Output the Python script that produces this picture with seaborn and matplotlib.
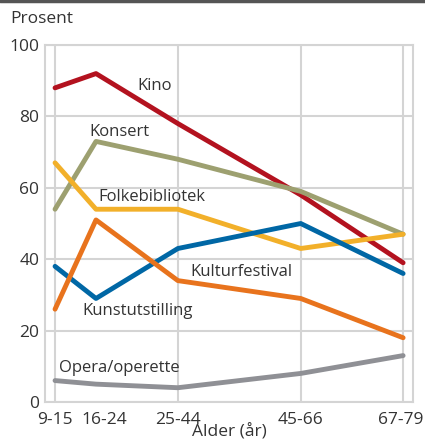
import pandas as pd
import seaborn as sns
import matplotlib.transforms as mtransforms
from matplotlib import pyplot as plt

# Data
age_groups = ["9-15", "16-24", "25-44", "45-66", "67-79"]
age_pos = [0, 1, 3, 6, 8.5]

kino = [88, 92, 78, 58, 39]
konsert = [54, 73, 68, 59, 47]
folkebibliotek = [67, 54, 54, 43, 47]
kulturfestival = [38, 29, 43, 50, 36]
kunstutstilling = [26, 51, 34, 29, 18]
opera = [6, 5, 4, 8, 13]

series = {
    "Kino": kino,
    "Konsert": konsert,
    "Folkebibliotek": folkebibliotek,
    "Kulturfestival": kulturfestival,
    "Kunstutstilling": kunstutstilling,
    "Opera/operette": opera,
}
colors = {
    "Kino": "#b3121f",
    "Konsert": "#9da070",
    "Folkebibliotek": "#f2b02a",
    "Kulturfestival": "#0067a5",
    "Kunstutstilling": "#e8731d",
    "Opera/operette": "#8f9095",
}
# label anchor (x in axis units, y in percent)
label_pos = {
    "Kino": (2.0, 88.5),
    "Konsert": (0.85, 75.5),
    "Folkebibliotek": (1.07, 57.5),
    "Kulturfestival": (3.3, 36.5),
    "Kunstutstilling": (0.66, 25.5),
    "Opera/operette": (0.1, 9.5),
}

rows = []
for name, vals in series.items():
    for x, v in zip(age_pos, vals):
        rows.append({"serie": name, "x": x, "verdi": v})
df = pd.DataFrame(rows)

sns.set_style("white")
plt.rcParams["font.family"] = ["Open Sans", "DejaVu Sans"]
grid_c = "#d4d4d4"
text_c = "#333333"

fig = plt.figure(figsize=(4.25, 4.44), dpi=100)
ax = fig.add_axes([0.106, 0.0946, 0.866, 0.804])

sns.lineplot(data=df, x="x", y="verdi", hue="serie", palette=colors,
             linewidth=3.5, legend=False, ax=ax, zorder=3)

for name, (lx, ly) in label_pos.items():
    ax.text(lx, ly, name, fontsize=12, color=text_c, va="center", ha="left", zorder=4)

ax.set_xlim(-0.244, 8.744)
ax.set_ylim(0, 100)
ax.set_yticks([0, 20, 40, 60, 80, 100])
ax.set_xticks([0, 3, 6, 8.5])
ax.set_xticklabels([age_groups[0], age_groups[2], age_groups[3], age_groups[4]])
ax.set_xticks([1], minor=True)
ax.set_xticklabels([age_groups[1]], minor=True)
ax.grid(True, which="major", color=grid_c, linewidth=1.5, zorder=0)
ax.set_axisbelow(True)
ax.tick_params(axis="both", which="both", labelsize=12.5, colors=text_c, length=0, pad=4)
ax.tick_params(axis="x", which="both", pad=7)
ax.tick_params(axis="x", which="minor", direction="in", length=5, width=1.5, color=grid_c)
for s in ax.spines.values():
    s.set_color(grid_c)
    s.set_linewidth(1.5)

# nudge the crowded "16-24" label right, as in the original
shift = mtransforms.ScaledTranslation(6 / 72, 0, fig.dpi_scale_trans)
for lab in ax.get_xticklabels(minor=True):
    lab.set_transform(lab.get_transform() + shift)
# and "67-79" slightly left
shift_l = mtransforms.ScaledTranslation(-2 / 72, 0, fig.dpi_scale_trans)
ax.get_xticklabels()[-1].set_transform(ax.get_xticklabels()[-1].get_transform() + shift_l)

ax.set_xlabel("Alder (år)", fontsize=12.5, color=text_c, labelpad=-3)
ax.set_ylabel("")
fig.text(0.024, 0.957, "Prosent", fontsize=12.5, color=text_c, va="center", ha="left")

# dark rule across the top
fig.add_artist(plt.Line2D([0, 1], [0.998, 0.998], color="#555555", linewidth=2.5))

fig.savefig("out.png", dpi=100)
